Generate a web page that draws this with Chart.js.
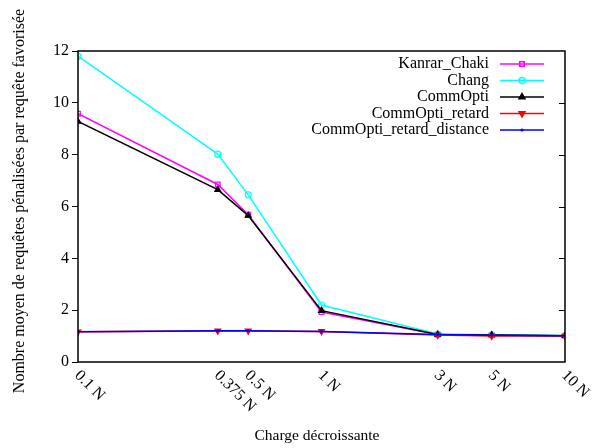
<!DOCTYPE html>
<html>
<head>
<meta charset="utf-8">
<script src="https://cdn.jsdelivr.net/npm/chart.js@4/dist/chart.umd.min.js"></script>
<style>
  body { margin: 0; background: #fff; }
  canvas { display: block; }
</style>
</head>
<body>
<canvas id="c" width="597" height="448"></canvas>
<script>
const charges = [0.1, 0.375, 0.5, 1, 3, 5, 10];
const chargeLabels = ["0.1 N", "0.375 N", "0.5 N", "1 N", "3 N", "5 N", "10 N"];
const yTicks = [0, 2, 4, 6, 8, 10, 12];

const kanrarChaki = [9.58, 6.85, 5.68, 1.93, 1.06, 1.04, 1.01];
const chang = [11.8, 8.02, 6.45, 2.2, 1.08, 1.05, 1.02];
const commOpti = [9.28, 6.65, 5.65, 1.98, 1.06, 1.04, 1.01];
const commOptiRetard = [1.17, 1.2, 1.2, 1.18, 1.04, 1.0, 1.0];
const commOptiRetardDistance = [1.17, 1.21, 1.21, 1.18, 1.06, 1.03, 1.01];

const serif = "'Liberation Serif', 'DejaVu Serif', serif";

function pts(vals) {
  return charges.map((x, i) => ({ x: x, y: vals[i] }));
}

const series = [
  { label: "Kanrar_Chaki", data: kanrarChaki, color: "#ff00ff", style: "rect", radius: 3.3, fill: false, rot: 0 },
  { label: "Chang", data: chang, color: "#00ffff", style: "circle", radius: 3, fill: false, rot: 0 },
  { label: "CommOpti", data: commOpti, color: "#000000", style: "triangle", radius: 3.4, fill: true, rot: 0 },
  { label: "CommOpti_retard", data: commOptiRetard, color: "#ff0000", style: "triangle", radius: 3.4, fill: true, rot: 180 },
  { label: "CommOpti_retard_distance", data: commOptiRetardDistance, color: "#0000ff", style: "circle", radius: 0.8, fill: true, rot: 0 },
];

// gnuplot style frame, mirror ticks, rotated x labels, titles and legend
const gnuplotDeco = {
  id: "gnuplotDeco",
  afterDraw(chart) {
    const ctx = chart.ctx;
    const a = chart.chartArea;
    const xs = chart.scales.x;
    const ys = chart.scales.y;
    ctx.save();

    ctx.strokeStyle = "#000";
    ctx.lineWidth = 1.5;
    ctx.strokeRect(a.left, a.top, a.right - a.left, a.bottom - a.top);

    // mirror ticks on the right side
    ctx.lineWidth = 1;
    yTicks.forEach(v => {
      const y = Math.round(ys.getPixelForValue(v)) + 0.5;
      if (v === 0 || v === 12) return;
      ctx.beginPath();
      ctx.moveTo(a.right - 6, y);
      ctx.lineTo(a.right, y);
      ctx.stroke();
    });

    // x tick labels, rotated downwards
    ctx.fillStyle = "#000";
    ctx.font = "16px " + serif;
    ctx.textAlign = "left";
    ctx.textBaseline = "middle";
    charges.forEach((v, i) => {
      const x = xs.getPixelForValue(v);
      ctx.save();
      ctx.translate(x - 1, a.bottom + 11);
      ctx.rotate(Math.PI / 4);
      ctx.fillText(chargeLabels[i], 0, 0);
      ctx.restore();
    });

    // axis titles
    ctx.textAlign = "center";
    ctx.font = "15.5px " + serif;
    ctx.fillText("Charge décroissante", 317, 436);
    ctx.font = "16px " + serif;
    ctx.save();
    ctx.translate(20, 201);
    ctx.rotate(-Math.PI / 2);
    ctx.fillText("Nombre moyen de requêtes pénalisées par requête favorisée", 0, 0);
    ctx.restore();

    // legend
    ctx.font = "16px " + serif;
    ctx.textAlign = "right";
    series.forEach((s, i) => {
      const y = 64 + i * 16.5;
      ctx.fillStyle = "#000";
      ctx.fillText(s.label, 489, y);
      ctx.strokeStyle = s.color;
      ctx.lineWidth = 1.5;
      ctx.beginPath();
      ctx.moveTo(500, y);
      ctx.lineTo(544, y);
      ctx.stroke();
      ctx.fillStyle = s.fill ? s.color : "rgba(0,0,0,0)";
      Chart.helpers.drawPoint(ctx, {
        pointStyle: s.style, radius: s.radius, rotation: s.rot, borderWidth: 1.2
      }, 522, y);
      if (s.fill) ctx.fill();
    });

    ctx.restore();
  }
};

new Chart(document.getElementById("c"), {
  type: "line",
  data: {
    datasets: series.map((s, i) => ({
      label: s.label,
      data: pts(s.data),
      borderColor: s.color,
      backgroundColor: s.fill ? s.color : "rgba(0,0,0,0)",
      pointBackgroundColor: s.fill ? s.color : "rgba(0,0,0,0)",
      pointBorderColor: s.color,
      pointStyle: s.style,
      pointRadius: s.radius,
      pointRotation: s.rot,
      pointBorderWidth: 1.2,
      borderWidth: 1.5,
      tension: 0,
      fill: false,
      order: series.length - i,
    })),
  },
  options: {
    responsive: false,
    animation: false,
    layout: { padding: { top: 51, right: 32, left: 0, bottom: 0 } },
    scales: {
      x: {
        type: "logarithmic",
        min: 0.1,
        max: 10,
        grid: { display: false },
        border: { display: false },
        ticks: { display: false },
        afterFit(scale) { scale.height = 86; },
      },
      y: {
        min: 0,
        max: 12,
        grid: { drawOnChartArea: false, drawTicks: true, tickLength: 6, color: "#000" },
        border: { display: false },
        ticks: {
          stepSize: 2,
          padding: 3,
          color: "#000",
          font: { family: serif, size: 16 },
        },
        afterFit(scale) { scale.width = 78; },
      },
    },
    plugins: {
      legend: { display: false },
      tooltip: { enabled: false },
    },
  },
  plugins: [gnuplotDeco],
});
</script>
</body>
</html>
